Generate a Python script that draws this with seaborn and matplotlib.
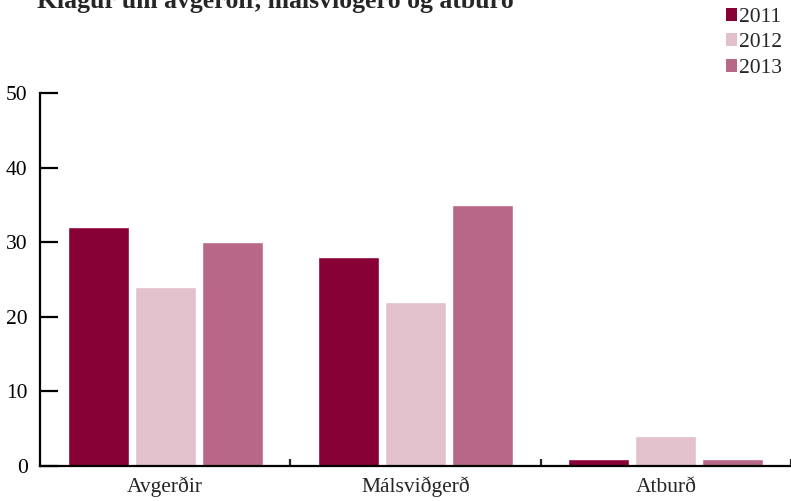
import pandas as pd
import matplotlib.pyplot as plt
import seaborn as sns
from matplotlib.patches import Patch

categories = ['Avgerðir', 'Málsviðgerð', 'Atburð']
years = ['2011', '2012', '2013']
v2011 = [32, 28, 1]
v2012 = [24, 22, 4]
v2013 = [30, 35, 1]
colours = ['#870036', '#e2c0cc', '#b76887']

df = pd.DataFrame({
    'kategori': categories * 3,
    'ár': [years[0]] * 3 + [years[1]] * 3 + [years[2]] * 3,
    'tal': v2011 + v2012 + v2013,
})

sns.set_style('white')
plt.rcParams['font.family'] = ['Liberation Serif', 'DejaVu Serif']

fig = plt.figure(figsize=(7.91, 5.01), dpi=100)
ax = fig.add_axes([40 / 791, 1 - 466 / 501, 1 - 40 / 791, (466 - 93) / 501])

sns.barplot(data=df, x='kategori', y='tal', hue='ár', palette=colours,
            width=0.804, gap=0.09, saturation=1, legend=False, ax=ax)

ax.set_xlim(-0.5, 2.5)
ax.set_ylim(0, 50)
ax.set_yticks([0, 10, 20, 30, 40, 50])
ax.set_xlabel('')
ax.set_ylabel('')

for s in ['top', 'right']:
    ax.spines[s].set_visible(False)
for s in ['left', 'bottom']:
    ax.spines[s].set_linewidth(1.6)
    ax.spines[s].set_color('black')

ax.tick_params(axis='y', left=True, direction='in', length=13, width=1.6, pad=9,
               labelsize=15.5, colors='black')
ax.tick_params(axis='x', which='major', bottom=False, length=0, pad=19, labelsize=15.5)
for lab in ax.get_xticklabels():
    lab.set_va('baseline')
ax.set_xticks([0.5, 1.5, 2.5], minor=True)
ax.tick_params(axis='x', which='minor', bottom=True, direction='in', length=5, width=1.6)

fig.text(37 / 791, 1 - 8 / 501, 'Klagur um avgerðir, málsviðgerð og atburð',
         fontsize=18.5, fontweight='bold', va='baseline', ha='left')

handles = [Patch(facecolor=c, edgecolor='none') for c in colours]
fig.legend(handles, years, loc='upper left', bbox_to_anchor=(717 / 791, 1 + 1 / 501),
           frameon=False, fontsize=15.5, handlelength=0.55, handleheight=0.55,
           handletextpad=0.05, labelspacing=0.3, borderaxespad=0)

fig.savefig('out.png', dpi=100)
